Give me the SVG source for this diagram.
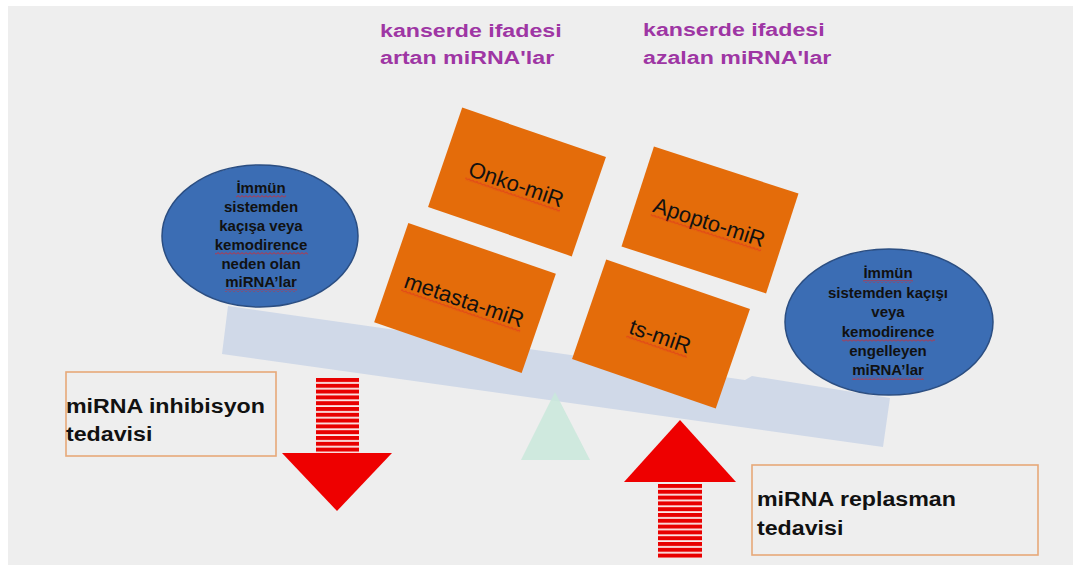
<svg xmlns="http://www.w3.org/2000/svg" width="1073" height="565" viewBox="0 0 1073 565">
  <defs>
    <style>
      .title { font-family: "Liberation Sans", Arial, sans-serif; font-weight: bold; font-size: 19px; fill: #9e36a4; }
      .oval { fill: #3b6db4; stroke: #2b4e82; stroke-width: 1.5; }
      .oval-text { font-family: "Liberation Sans", Arial, sans-serif; font-weight: bold; font-size: 15px; fill: #111; text-anchor: middle; }
      .box { fill: #e46c0a; }
      .box-text { font-family: "Liberation Sans", Arial, sans-serif; font-size: 22px; fill: #111; text-anchor: middle; }
      .note { fill: none; stroke: #e6a878; stroke-width: 1.6; }
      .note-text { font-family: "Liberation Sans", Arial, sans-serif; font-weight: bold; font-size: 19.5px; fill: #111; }
      .head { fill: #ee0000; }
    </style>
    <!-- red spell-check squiggle -->
    <pattern id="squiggle" width="4" height="3" patternUnits="userSpaceOnUse">
      <path d="M0 2.5 L2 0.5 L4 2.5" fill="none" stroke="#e02525" stroke-width="0.9"/>
    </pattern>
    <!-- striped arrow shaft, aligned per arrow -->
    <pattern id="stripesDown" width="10" height="5.8" patternUnits="userSpaceOnUse" y="378">
      <rect width="10" height="5.8" fill="#fbeaea"/>
      <rect width="10" height="4" fill="#e80000"/>
    </pattern>
    <pattern id="stripesUp" width="10" height="5.8" patternUnits="userSpaceOnUse" y="484">
      <rect width="10" height="5.8" fill="#fbeaea"/>
      <rect width="10" height="4" fill="#e80000"/>
    </pattern>
  </defs>

  <!-- canvas -->
  <rect width="1073" height="565" fill="#ffffff"/>
  <rect x="8" y="6" width="1065" height="559" fill="#eeeeee"/>

  <!-- headings (horizontally widened lettering) -->
  <g id="title-up">
    <text class="title" transform="translate(380,37) scale(1.22,1)">kanserde ifadesi</text>
    <text class="title" transform="translate(380,64) scale(1.22,1)">artan miRNA'lar</text>
  </g>
  <g id="title-down">
    <text class="title" transform="translate(643,36) scale(1.22,1)">kanserde ifadesi</text>
    <text class="title" transform="translate(643,64) scale(1.22,1)">azalan miRNA'lar</text>
  </g>

  <!-- balance beam and fulcrum -->
  <g id="beam">
    <polygon points="228,306 745,380 752,376 890,398 883,447 222,354" fill="#d0d9e8"/>
  </g>
  <g id="fulcrum">
    <polygon points="555,392 521,460 590,460" fill="#c9e8da" opacity="0.85"/>
  </g>

  <!-- miRNA blocks on the beam -->
  <g id="onko-mir" transform="translate(517,182) rotate(19)">
    <rect class="box" x="-76" y="-52.5" width="152" height="105"/>
    <text class="box-text" x="0" y="10">Onko-miR</text>
    <rect x="-50" y="12" width="100" height="3" fill="url(#squiggle)"/>
  </g>
  <g id="metasta-mir" transform="translate(465,298) rotate(19)">
    <rect class="box" x="-78" y="-52.5" width="156" height="105"/>
    <text class="box-text" x="0" y="10">metasta-miR</text>
    <rect x="-63" y="12" width="126" height="3" fill="url(#squiggle)"/>
  </g>
  <g id="apopto-mir" transform="translate(710,220) rotate(18)">
    <rect class="box" x="-76" y="-52.5" width="152" height="105"/>
    <text class="box-text" x="0" y="10">Apopto-miR</text>
    <rect x="-58" y="12" width="116" height="3" fill="url(#squiggle)"/>
  </g>
  <g id="ts-mir" transform="translate(661,334) rotate(19)">
    <rect class="box" x="-76" y="-52.5" width="152" height="105"/>
    <text class="box-text" x="0" y="10">ts-miR</text>
    <rect x="-32" y="12" width="64" height="3" fill="url(#squiggle)"/>
  </g>

  <!-- immune-escape ovals -->
  <g id="oval-left">
    <ellipse class="oval" cx="260" cy="236" rx="98" ry="71"/>
    <text class="oval-text" x="261" y="193">İmmün</text>
    <text class="oval-text" x="261" y="212">sistemden</text>
    <text class="oval-text" x="261" y="231">kaçışa veya</text>
    <text class="oval-text" x="261" y="250">kemodirence</text>
    <text class="oval-text" x="261" y="269">neden olan</text>
    <text class="oval-text" x="261" y="287">miRNA’lar</text>
    <rect x="236" y="195" width="50" height="3" fill="url(#squiggle)"/>
    <rect x="215" y="252" width="93" height="3" fill="url(#squiggle)"/>
    <rect x="225" y="289" width="72" height="3" fill="url(#squiggle)"/>
  </g>
  <g id="oval-right">
    <ellipse class="oval" cx="889" cy="322" rx="104" ry="73"/>
    <text class="oval-text" x="888" y="278">İmmün</text>
    <text class="oval-text" x="888" y="298">sistemden kaçışı</text>
    <text class="oval-text" x="888" y="317">veya</text>
    <text class="oval-text" x="888" y="337">kemodirence</text>
    <text class="oval-text" x="888" y="356">engelleyen</text>
    <text class="oval-text" x="888" y="375">miRNA’lar</text>
    <rect x="863" y="280" width="50" height="3" fill="url(#squiggle)"/>
    <rect x="842" y="339" width="93" height="3" fill="url(#squiggle)"/>
    <rect x="852" y="377" width="72" height="3" fill="url(#squiggle)"/>
  </g>

  <!-- therapy labels -->
  <g id="label-inhibition">
    <rect class="note" x="66" y="372" width="210" height="84"/>
    <text class="note-text" transform="translate(66,413) scale(1.19,1)">miRNA inhibisyon</text>
    <text class="note-text" transform="translate(66,441) scale(1.19,1)">tedavisi</text>
  </g>
  <g id="label-replacement">
    <rect class="note" x="752" y="465" width="286" height="90"/>
    <text class="note-text" transform="translate(757,506) scale(1.19,1)">miRNA replasman</text>
    <text class="note-text" transform="translate(757,535) scale(1.19,1)">tedavisi</text>
  </g>

  <!-- therapy arrows -->
  <g id="arrows">
    <g id="arrow-down">
      <rect x="316" y="378" width="43" height="75" fill="url(#stripesDown)"/>
      <polygon class="head" points="282,453 392,453 337,511"/>
    </g>
    <g id="arrow-up">
      <polygon class="head" points="680,420 736,482 624,482"/>
      <rect x="658" y="484" width="44" height="74" fill="url(#stripesUp)"/>
    </g>
  </g>
</svg>
